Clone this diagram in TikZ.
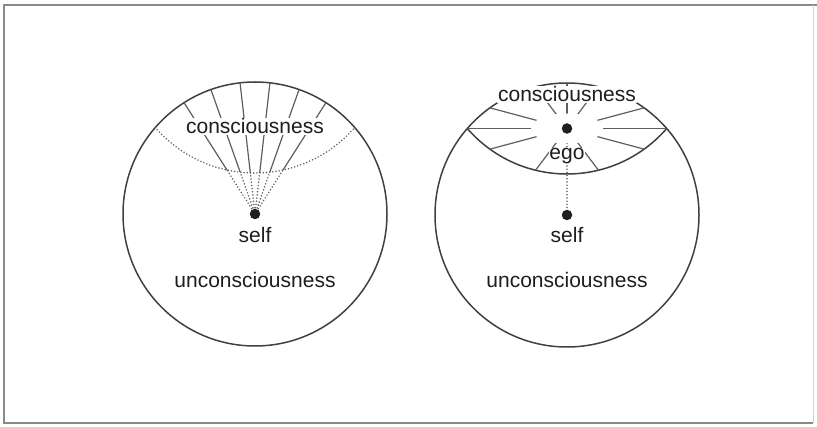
\documentclass[tikz,border=0pt]{standalone}
\usepackage{fontspec}
\setmainfont{Liberation Sans}
\usepackage{tikz}
\usetikzlibrary{backgrounds,positioning}
\definecolor{psyline}{HTML}{404040}
\definecolor{psygray}{HTML}{5E5E5E}
\definecolor{psyframe}{HTML}{8A8A8A}
\definecolor{psytext}{HTML}{1E1E1E}
\newcommand{\psyfont}{\fontsize{21}{24}\selectfont}
\tikzset{%
  psysphere/.style={%
    circle,
    draw=psyline,
    line width=1.5pt,
    minimum size=264pt,
    inner sep=0pt
  },
  psyray/.style={draw=psygray,line width=1.2pt},
  psydotray/.style={draw=psygray,line width=1.7pt,line cap=round,dash pattern=on 0pt off 3.2pt},
  psydot/.style={circle,fill=black!88,inner sep=0pt,minimum size=10.5pt},
  psylabel/.style={font=\psyfont,text=psytext,inner sep=0.8pt,anchor=base},
  psymask/.style={psylabel,fill=white}
}

\begin{document}
\begin{tikzpicture}[x=10pt,y=10pt]
    \useasboundingbox (0,0) rectangle (81.7,42.6);
    % frame
    \draw[psyframe,line width=1.2pt] (81.7,42.1) -- (0.4,42.1) -- (0.4,0.3) -- (81.3,0.3);
    \draw[black!18,line width=0.8pt] (81.3,0.3) -- (81.3,42.1);

    % left: self below a dotted field of consciousness
    \node[psysphere] (sphereL) at (25.5,21.2) {};
    \begin{scope}
      \clip (sphereL.center) circle (13.2);
      \draw[psydotray] (25.5,38.5) circle (13.2);
    \end{scope}
    \foreach \a in {57.5,70.5,83.5,96.5,109.5,122.5}{
      \pgfmathsetmacro\t{17.3*sin(\a)-sqrt((17.3*sin(\a))^2-125.05)}
      \draw[psydotray] (sphereL.center) -- ++(\a:\t);
      \draw[psyray] (sphereL.center) ++(\a:\t) -- ++(\a:{13.2-\t});
    }
    \node[psymask] (consciousL) at (25.5,29.2) {consciousness};
    \node[psydot] (selfL) at (sphereL.center) {};
    \node[psylabel] (selfLabelL) at (25.5,18.3) {self};
    \node[psylabel] (unconsciousL) at (25.5,13.8) {unconsciousness};

    % right: ego inside the lens of consciousness
    \node[psysphere] (sphereR) at (56.7,21.1) {};
    \begin{scope}
      \clip (sphereR.center) circle (13.2);
      \draw[psysphere,minimum size=0pt] (56.7,38.4) circle (13.2);
    \end{scope}
    \coordinate (egoPoint) at (56.7,29.75);
    \begin{scope}
      \clip (sphereR.center) circle (13.2);
      \clip (56.7,38.4) circle (13.2);
      \foreach \a in {0,15,-15,180,165,195,-53,233,53,90,127}
        \draw[psyray] (egoPoint) -- ++(\a:12);
    \end{scope}
    \fill[white] (egoPoint) ellipse [x radius=3.6,y radius=1.5];
    \node[psymask] (consciousR) at (56.7,32.4) {consciousness};
    \node[psymask] (egoLabel) at (56.7,26.6) {ego};
    \node[psydot] (ego) at (egoPoint) {};
    \node[psydot] (selfR) at (sphereR.center) {};
    \node[psylabel] (selfLabelR) at (56.7,18.3) {self};
    \node[psylabel] (unconsciousR) at (56.7,13.8) {unconsciousness};

    \begin{scope}[on background layer]
      \draw[psydotray] (ego) -- (selfR);
    \end{scope}
  \end{tikzpicture}
\end{document}
